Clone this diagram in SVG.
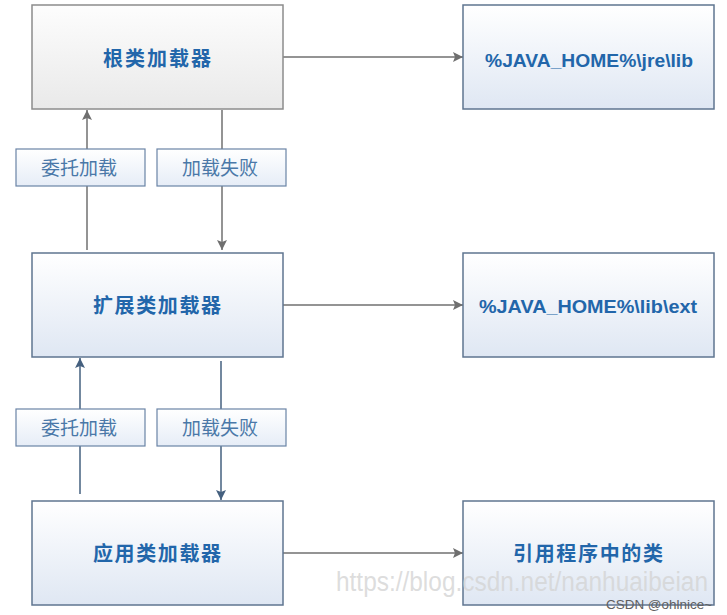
<svg xmlns="http://www.w3.org/2000/svg" width="727" height="615" viewBox="0 0 727 615">
<defs>
<linearGradient id="gGray" x1="0" y1="0" x2="0" y2="1"><stop offset="0" stop-color="#fdfdfd"/><stop offset="1" stop-color="#e9e9e9"/></linearGradient>
<linearGradient id="gBlue" x1="0" y1="0" x2="0" y2="1"><stop offset="0" stop-color="#ffffff"/><stop offset="1" stop-color="#dfe7f3"/></linearGradient>
<linearGradient id="gLbl" x1="0" y1="0" x2="0" y2="1"><stop offset="0" stop-color="#ffffff"/><stop offset="1" stop-color="#e6edf7"/></linearGradient>
<marker id="aGray" viewBox="0 0 10 10" refX="10" refY="5" markerWidth="10" markerHeight="10" markerUnits="userSpaceOnUse" orient="auto"><path d="M0,0 L10,5 L0,10 L2,5 Z" fill="#6f6f6f"/></marker>
<marker id="aBlue" viewBox="0 0 10 10" refX="10" refY="5" markerWidth="10" markerHeight="10" markerUnits="userSpaceOnUse" orient="auto"><path d="M0,0 L10,5 L0,10 L2,5 Z" fill="#45607f"/></marker>
</defs>
<style>
.box{fill:url(#gBlue);stroke:#5f7590;stroke-width:1.5}
.root{fill:url(#gGray);stroke:#8c8c8c;stroke-width:1.5}
.lbl{fill:url(#gLbl);stroke:#6a84a6;stroke-width:1.2}
.t{font-family:"Liberation Sans","Noto Sans CJK SC",sans-serif;font-size:20px;font-weight:bold;fill:#2266aa;text-anchor:middle}
.r{font-family:"Liberation Sans","Noto Sans CJK SC",sans-serif;font-size:19px;font-weight:bold;fill:#2266aa;text-anchor:middle}
.lt{font-family:"Liberation Sans","Noto Sans CJK SC",sans-serif;font-size:19px;fill:#4a78a8;text-anchor:middle}
.cg{stroke:#707070;stroke-width:1.5;fill:none;marker-end:url(#aGray)}
.cb{stroke:#45607f;stroke-width:1.5;fill:none;marker-end:url(#aBlue)}
</style>
<rect width="727" height="615" fill="#ffffff"/>
<g id="connectors">
<line class="cg" x1="283" y1="57" x2="463" y2="57"/>
<line class="cg" x1="283" y1="305" x2="463" y2="305"/>
<line class="cg" x1="283" y1="553" x2="463" y2="553"/>
<line class="cg" x1="87" y1="250" x2="87" y2="110"/>
<line class="cg" x1="222" y1="110" x2="222" y2="250"/>
<line class="cb" x1="80" y1="494" x2="80" y2="358"/>
<line class="cb" x1="221" y1="361" x2="221" y2="500"/>
</g>
<g id="root-loader"><rect class="root" x="32" y="5" width="251" height="104"/><text class="t" x="157" y="66" textLength="108" lengthAdjust="spacing">根类加载器</text></g>
<g id="jre-lib"><rect class="box" x="463" y="5" width="251" height="104"/><text class="r" x="589" y="67" textLength="208" lengthAdjust="spacingAndGlyphs">%JAVA_HOME%\jre\lib</text></g>
<g id="ext-loader"><rect class="box" x="32" y="253" width="251" height="104"/><text class="t" x="157" y="313" textLength="128" lengthAdjust="spacing">扩展类加载器</text></g>
<g id="lib-ext"><rect class="box" x="463" y="253" width="251" height="104"/><text class="r" x="588" y="313" textLength="218" lengthAdjust="spacingAndGlyphs">%JAVA_HOME%\lib\ext</text></g>
<g id="app-loader"><rect class="box" x="32" y="501" width="251" height="104"/><text class="t" x="157" y="561" textLength="128" lengthAdjust="spacing">应用类加载器</text></g>
<g id="app-classes"><rect class="box" x="463" y="501" width="251" height="104"/><text class="t" x="588" y="561" textLength="150" lengthAdjust="spacing">引用程序中的类</text></g>
<g id="delegate1"><rect class="lbl" x="16" y="149" width="129" height="37"/><text class="lt" x="79" y="175">委托加载</text></g>
<g id="fail1"><rect class="lbl" x="157" y="149" width="129" height="37"/><text class="lt" x="220" y="175">加载失败</text></g>
<g id="delegate2"><rect class="lbl" x="16" y="409" width="129" height="37"/><text class="lt" x="79" y="435">委托加载</text></g>
<g id="fail2"><rect class="lbl" x="157" y="409" width="129" height="37"/><text class="lt" x="220" y="435">加载失败</text></g>
<text x="522" y="591" font-family="Liberation Sans Narrow,Liberation Sans,sans-serif" font-size="27" fill="#d4d4d4" fill-opacity="0.8" text-anchor="middle" textLength="372" lengthAdjust="spacingAndGlyphs">https://blog.csdn.net/nanhuaibeian</text>
<text x="712" y="609" font-family="Liberation Sans,sans-serif" font-size="13" fill="#606060" text-anchor="end" textLength="106" lengthAdjust="spacingAndGlyphs">CSDN @ohlnice~</text>
</svg>
